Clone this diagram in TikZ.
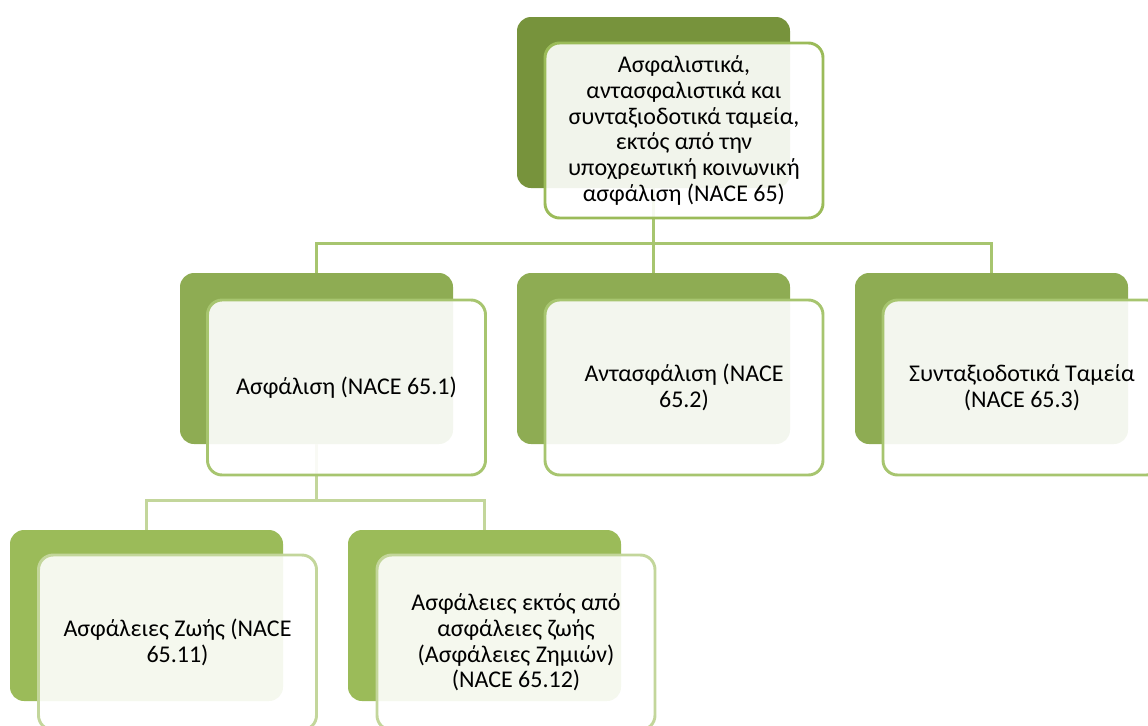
\documentclass[tikz,border=0pt]{standalone}
\usepackage{fontspec}
\setmainfont{Carlito}
\begin{document}
\begin{tikzpicture}[x=0.75pt,y=-0.75pt,
  backbox/.style={rounded corners=10.5pt, minimum width=204.75pt, minimum height=128.25pt, inner sep=0pt},
  frontbox/.style={rounded corners=11pt, minimum width=208.5pt, minimum height=131.25pt, inner sep=4pt,
    fill=white, fill opacity=0.9, text opacity=1, line width=2.2pt, align=center,
    font=\fontsize{18}{19.3}\selectfont},
  link/.style={line width=2.2pt}]
\definecolor{lvlA}{HTML}{77933C}
\definecolor{lvlB}{HTML}{8EAC53}
\definecolor{lvlC}{HTML}{9BBB59}
\definecolor{edgeA}{HTML}{9BBB59}
\definecolor{edgeB}{HTML}{A7C56F}
\definecolor{edgeC}{HTML}{C3D69B}
\useasboundingbox (0,0) rectangle (1148,725);
\clip (0,0) rectangle (1148,725);

% back plates
\node[backbox, fill=lvlA] (top) at (653.5,102.5) {};
\node[backbox, fill=lvlB] (ins) at (316.5,358.5) {};
\node[backbox, fill=lvlB] (rei) at (653.5,358.5) {};
\node[backbox, fill=lvlB] (pen) at (991.5,358.5) {};
\node[backbox, fill=lvlC] (life) at (146.5,615.5) {};
\node[backbox, fill=lvlC] (nonlife) at (484.5,615.5) {};

% connectors
\draw[link, edgeB] (top.south) -- ++(0,55) -| (ins.north);
\draw[link, edgeB] (top.south) ++(0,55) -| (rei.north);
\draw[link, edgeB] (top.south) ++(0,55) -| (pen.north);
\draw[link, edgeC] (ins.south) -- ++(0,56) -| (life.north);
\draw[link, edgeC] (ins.south) ++(0,56) -| (nonlife.north);

% front panels with the labels
\node[frontbox, draw=edgeA] (topT) at (684,130.5)
  {Ασφαλιστικά,\\ αντασφαλιστικά και\\ συνταξιοδοτικά ταμεία,\\ εκτός από την\\ υποχρεωτική κοινωνική\\ ασφάλιση (NACE 65)};
\node[frontbox, draw=edgeB] (insT) at (346.5,387.5) {Ασφάλιση (NACE 65.1)};
\node[frontbox, draw=edgeB] (reiT) at (684,387.5) {Αντασφάλιση (NACE\\ 65.2)};
\node[frontbox, draw=edgeB] (penT) at (1022,387.5) {Συνταξιοδοτικά Ταμεία\\ (NACE 65.3)};
\node[frontbox, draw=edgeC] (lifeT) at (177.5,642.5) {Ασφάλειες Ζωής (NACE\\ 65.11)};
\node[frontbox, draw=edgeC] (nonlifeT) at (516,642.5) {Ασφάλειες εκτός από\\ ασφάλειες ζωής\\ (Ασφάλειες Ζημιών)\\ (NACE 65.12)};
\end{tikzpicture}
\end{document}
